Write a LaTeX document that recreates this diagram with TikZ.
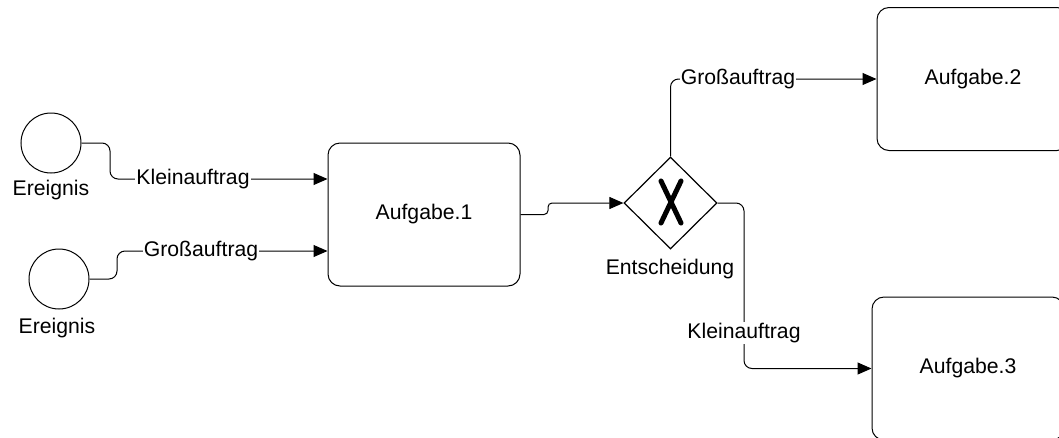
\documentclass[tikz,border=0pt]{standalone}
\usepackage{fontspec}
\setmainfont{Liberation Sans}
\usetikzlibrary{arrows.meta,shapes.geometric}
\begin{document}
\begin{tikzpicture}[x=1pt,y=-1pt,
  every node/.style={font=\fontsize{21.2}{25}\selectfont},
  event/.style={circle,draw,line width=1pt,minimum size=60pt,inner sep=0pt},
  task/.style={rectangle,rounded corners=12pt,draw,line width=1pt,minimum width=192pt,minimum height=143pt,inner sep=0pt},
  gateway/.style={diamond,draw,line width=1.2pt,minimum width=93pt,minimum height=92pt,inner sep=0pt},
  flow/.style={line width=1pt,rounded corners=8pt,-{Triangle[length=14pt,width=12pt]}},
  lbl/.style={fill=white,inner sep=1pt},
  caption/.style={inner sep=0pt}]
\useasboundingbox (0,0) rectangle (1059,437);
\clip (0,0) rectangle (1059,437);

% start events
\node[event] (e1) at (51,143) {};
\node[caption] (e1t) at (51,190) {Ereignis};
\node[event] (e2) at (59,279) {};
\node[caption] (e2t) at (57,328) {Ereignis};

% tasks
\node[task] (t1) at (424,214.5) {Aufgabe.1};
\node[task] (t2) at (973,79) {Aufgabe.2};
\node[task] (t3) at (968,368.5) {Aufgabe.3};

% exclusive gateway
\node[gateway] (g) at (670.5,203) {};
\draw[line width=5pt,line cap=round] (661,181) -- (681,223) (681,181) -- (661,223);
\node[caption] (gt) at (670,269) {Entscheidung};

% coordinates of the flow bends
\coordinate (a1) at (110,143);
\coordinate (a2) at (110,179);
\coordinate (b1) at (117,279);
\coordinate (b2) at (117,251);
\coordinate (c1) at (548,214.5);
\coordinate (c2) at (548,203);
\coordinate (d1) at (670.5,79);
\coordinate (f1) at (744,203);
\coordinate (f2) at (744,368.5);

% sequence flows
\draw[flow] (e1.east) -- (a1) -- (a2) -- (a2 -| t1.west);
\draw[flow] (e2.east) -- (b1) -- (b2) -- (b2 -| t1.west);
\draw[flow,rounded corners=4pt] (t1.east) -- (c1) -- (c2) -- (g.west);
\draw[flow] (g.north) -- (d1) -- (t2.west);
\draw[flow] (g.east) -- (f1) -- (f2) -- (t3.west);

% flow labels
\node[lbl] (l1) at (193,179) {Kleinauftrag};
\node[lbl] (l2) at (201,251) {Großauftrag};
\node[lbl] (l3) at (738,79) {Großauftrag};
\node[lbl] (l4) at (744,333) {Kleinauftrag};
\end{tikzpicture}
\end{document}
